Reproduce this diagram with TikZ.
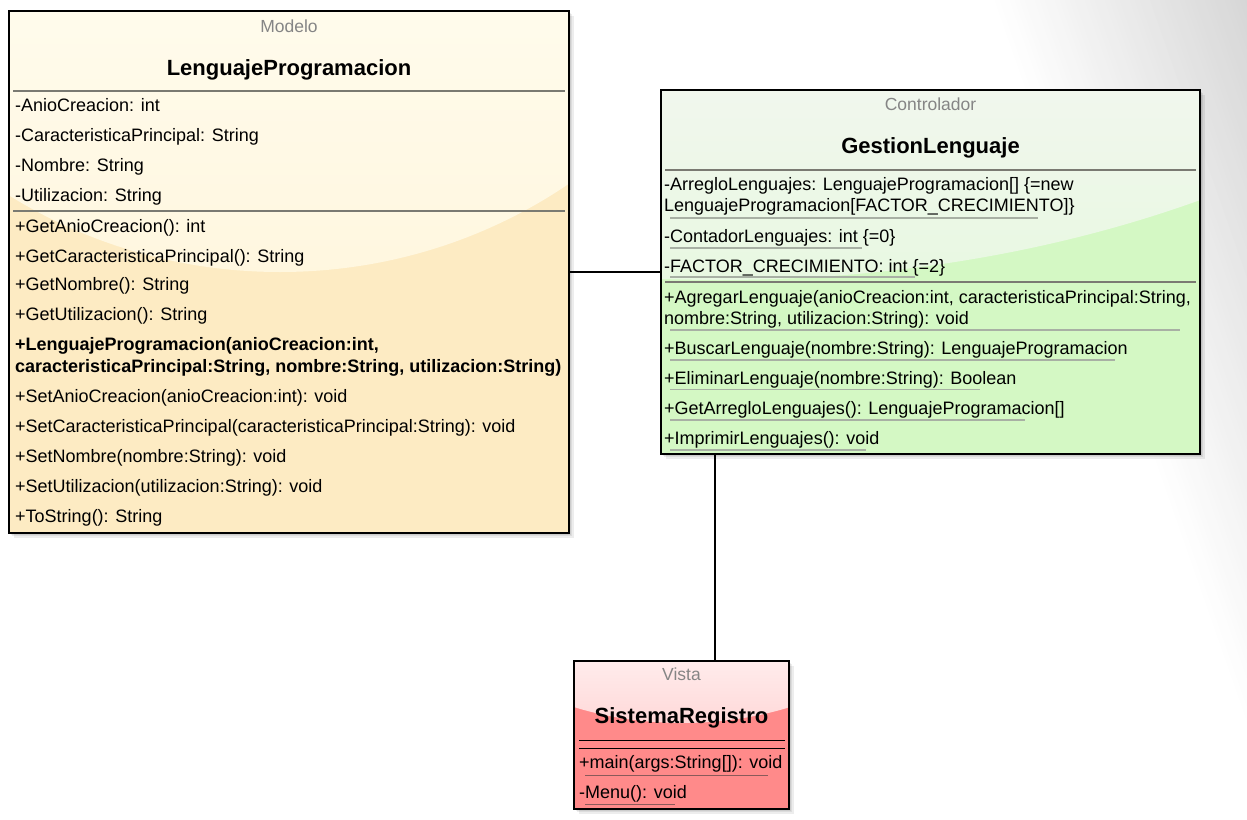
\documentclass[tikz,border=0pt]{standalone}
\usepackage{fontspec}
\setmainfont{Liberation Sans}
\definecolor{stereogray}{HTML}{858585}
\definecolor{sepgray}{HTML}{7A7A72}
\definecolor{ulgray}{HTML}{A8B0A4}
\definecolor{mabase}{HTML}{FDEBC3}
\definecolor{matop}{HTML}{FFFDF2}
\definecolor{mabot}{HTML}{FFF5D9}
\definecolor{cbase}{HTML}{D4F8C4}
\definecolor{ctop}{HTML}{F5F7F3}
\definecolor{cbot}{HTML}{E4F8DC}
\definecolor{vbase}{HTML}{FF8A8A}
\definecolor{vtop}{HTML}{FFF5F5}
\definecolor{vbot}{HTML}{FFCFCF}
\definecolor{vline}{HTML}{8A5A5A}
\tikzset{
  boxnode/.style={draw=none, inner sep=0pt, outer sep=0pt},
  txt/.style={anchor=base west, inner sep=0pt, font=\fontsize{18}{20}\selectfont},
  btxt/.style={anchor=base west, inner sep=0pt, font=\fontsize{18}{20}\selectfont\bfseries},
  stereo/.style={anchor=base, inner sep=0pt, font=\fontsize{17.5}{20}\selectfont, text=stereogray},
  ttl/.style={anchor=base, inner sep=0pt, font=\fontsize{22}{24}\selectfont\bfseries},
  sepline/.style={draw=sepgray, line width=2pt},
  uline/.style={draw=ulgray, line width=1.6pt},
  vuline/.style={draw=vline, line width=0.8pt},
  border/.style={draw=black, line width=2pt},
  conn/.style={draw=black, line width=2pt},
  shadowbox/.style={fill=black, opacity=0.07},
}
\begin{document}
\begin{tikzpicture}[x=1pt, y=-1pt]
\useasboundingbox (0,0) rectangle (1247,819);
\fill[white] (0,0) rectangle (1247,819);
% background glow on the right
\begin{scope}
  \clip (0,0) rectangle (1247,819);
  \foreach \i in {0,...,57}{
    \pgfmathsetmacro{\c}{990+5*\i}
    \pgfmathsetmacro{\k}{min(16,16*(\c-990)/257)}
    \fill[black!\k] (\c-3.5,-10) -- (\c+2.5,-10) -- (\c+296.5,830) -- (\c+290.5,830) -- cycle;
  }
\end{scope}

% box frames
\node[boxnode, minimum width=560pt, minimum height=522pt] (model) at (289,272) {};
\node[boxnode, minimum width=539pt, minimum height=364pt] (ctrl) at (930.5,272) {};
\node[boxnode, minimum width=215pt, minimum height=148pt] (view) at (681.5,735) {};

% shadows
\foreach \d in {1.5,3,4.5}{
  \fill[shadowbox] ([shift={(\d,\d)}]model.north west) rectangle ([shift={(\d,\d)}]model.south east);
  \fill[shadowbox] ([shift={(\d,\d)}]ctrl.north west) rectangle ([shift={(\d,\d)}]ctrl.south east);
  \fill[shadowbox] ([shift={(\d,\d)}]view.north west) rectangle ([shift={(\d,\d)}]view.south east);
}

% ---- Modelo box fill
\fill[mabase] (model.north west) rectangle (model.south east);
\begin{scope}
  \clip (model.north west) rectangle (model.south east);
  \clip (280,-200) ellipse [x radius=496, y radius=472];
  \shade[top color=matop, bottom color=mabot] (0,-119.5) rectangle (600,402.5);
\end{scope}
% ---- Controlador box fill
\fill[cbase] (ctrl.north west) rectangle (ctrl.south east);
\begin{scope}
  \clip (ctrl.north west) rectangle (ctrl.south east);
  \clip (720,-300) ellipse [x radius=947, y radius=580];
  \shade[top color=ctop, bottom color=cbot] (650,-5) rectangle (1210,375);
\end{scope}
% ---- Vista box fill
\fill[vbase] (view.north west) rectangle (view.south east);
\begin{scope}
  \clip (view.north west) rectangle (view.south east);
  \clip (682,560) ellipse [x radius=250, y radius=163];
  \shade[top color=vtop, bottom color=vbot] (560,630) rectangle (800,754);
\end{scope}

% borders
\draw[border] (model.north west) rectangle (model.south east);
\draw[border] (ctrl.north west) rectangle (ctrl.south east);
\draw[border] (view.north west) rectangle (view.south east);

% connectors
\coordinate (vx) at (715,0);
\draw[conn] (model.east) -- (ctrl.west);
\draw[conn] (ctrl.south -| vx) -- (view.north -| vx);

% ---- Modelo content
\node[stereo] (ms) at (289,32.5) {Modelo};
\node[ttl] (mt) at (289,75) {LenguajeProgramacion};
\draw[sepline] (13,90.5) -- (565,90.5);
\node[txt] (ma1) at (15,111.5) {-AnioCreacion: int};
\node[txt] (ma2) at (15,141.5) {-CaracteristicaPrincipal: String};
\node[txt] (ma3) at (15,171.5) {-Nombre: String};
\node[txt] (ma4) at (15,201.5) {-Utilizacion: String};
\draw[sepline] (13,210.5) -- (565,210.5);
\node[txt] (mm1) at (15,232.5) {+GetAnioCreacion(): int};
\node[txt] (mm2) at (15,262.5) {+GetCaracteristicaPrincipal(): String};
\node[txt] (mm3) at (15,290.5) {+GetNombre(): String};
\node[txt] (mm4) at (15,320.5) {+GetUtilizacion(): String};
\node[btxt] (mm5) at (15,350.5) {+LenguajeProgramacion(anioCreacion:int,};
\node[btxt] (mm5b) at (15,372.5) {caracteristicaPrincipal:String, nombre:String, utilizacion:String)};
\node[txt] (mm6) at (15,402.5) {+SetAnioCreacion(anioCreacion:int): void};
\node[txt] (mm7) at (15,432.5) {+SetCaracteristicaPrincipal(caracteristicaPrincipal:String): void};
\node[txt] (mm8) at (15,462.5) {+SetNombre(nombre:String): void};
\node[txt] (mm9) at (15,492.5) {+SetUtilizacion(utilizacion:String): void};
\node[txt] (mm10) at (15,522.5) {+ToString(): String};

% ---- Controlador content
\node[stereo] (cs) at (930.5,110.5) {Controlador};
\node[ttl] (ct) at (930.5,153) {GestionLenguaje};
\draw[sepline] (665,170) -- (1196,170);
\node[txt] (ca1) at (664,190.5) {-ArregloLenguajes: LenguajeProgramacion[] \{=new};
\node[txt] (ca1b) at (664,211.5) {LenguajeProgramacion[FACTOR\_CRECIMIENTO]\}};
\draw[uline] (670,218) -- (1038,218);
\node[txt] (ca2) at (664,242.5) {-ContadorLenguajes: int \{=0\}};
\draw[uline] (670,248) -- (862,248);
\node[txt] (ca3) at (664,272.5) {-FACTOR\_CRECIMIENTO: int \{=2\}};
\draw[uline] (670,277) -- (915,277);
\draw[sepline] (665,282) -- (1196,282);
\node[txt] (cm1) at (664,303.5) {+AgregarLenguaje(anioCreacion:int, caracteristicaPrincipal:String,};
\node[txt] (cm1b) at (664,324.5) {nombre:String, utilizacion:String): void};
\draw[uline] (670,330) -- (1180,330);
\node[txt] (cm2) at (664,354.5) {+BuscarLenguaje(nombre:String): LenguajeProgramacion};
\draw[uline] (670,360) -- (1115,360);
\node[txt] (cm3) at (664,384.5) {+EliminarLenguaje(nombre:String): Boolean};
\draw[uline] (670,389.5) -- (980,389.5);
\node[txt] (cm4) at (664,414.5) {+GetArregloLenguajes(): LenguajeProgramacion[]};
\draw[uline] (670,420) -- (1025,420);
\node[txt] (cm5) at (664,444.5) {+ImprimirLenguajes(): void};
\draw[uline] (670,450) -- (866,450);

% ---- Vista content
\node[stereo] (vs) at (681.5,680.5) {Vista};
\node[ttl] (vt) at (681.5,723) {SistemaRegistro};
\draw[black, line width=1pt] (579,740) -- (785,740);
\draw[black, line width=1pt] (579,748) -- (785,748);
\node[txt] (vm1) at (579,768.5) {+main(args:String[]): void};
\draw[vuline] (585,775) -- (768,775);
\node[txt] (vm2) at (579,798.5) {-Menu(): void};
\draw[vuline] (585,804) -- (675,804);
\end{tikzpicture}
\end{document}
